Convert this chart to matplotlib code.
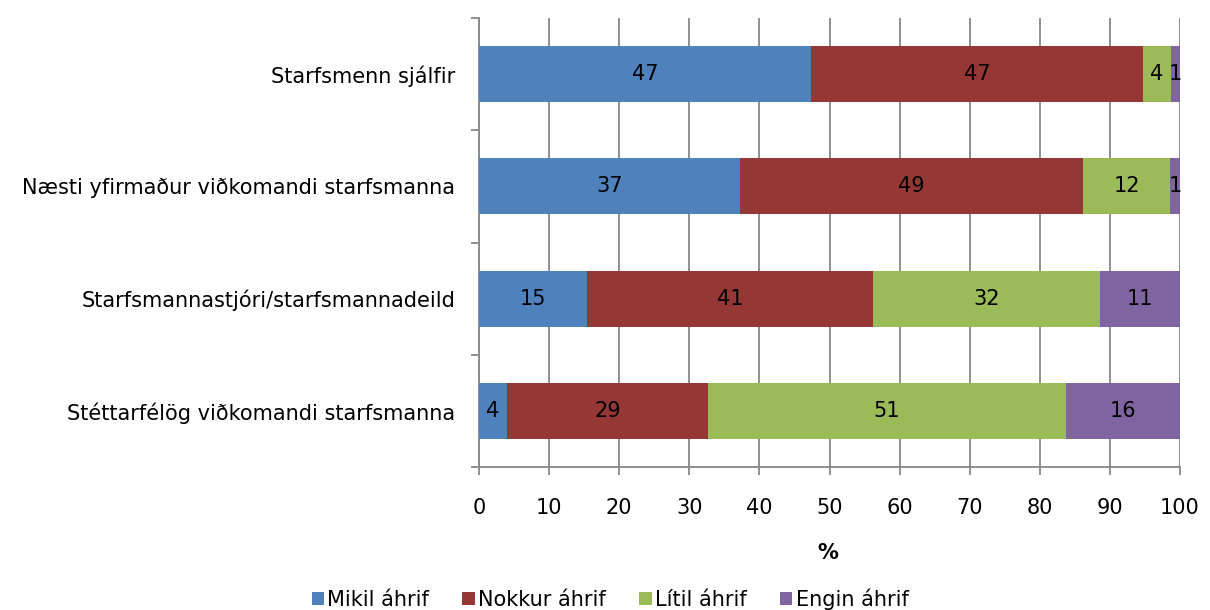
import numpy as np
import matplotlib.pyplot as plt
from matplotlib.ticker import MultipleLocator, FixedLocator

categories = [
    "Starfsmenn sjálfir",
    "Næsti yfirmaður viðkomandi starfsmanna",
    "Starfsmannastjóri/starfsmannadeild",
    "Stéttarfélög viðkomandi starfsmanna",
]
series = ["Mikil áhrif", "Nokkur áhrif", "Lítil áhrif", "Engin áhrif"]
mikil = [47.4, 37.2, 15.4, 4.0]
nokkur = [47.3, 49.0, 40.8, 28.7]
litil = [4.0, 12.4, 32.4, 51.0]
engin = [1.3, 1.4, 11.4, 16.3]
colors = ["#4F81BD", "#953735", "#9BBB59", "#8064A2"]

plt.rcParams['font.family'] = ['DejaVu Sans']
FS = 15

fig = plt.figure(figsize=(12.1, 6.1), dpi=100)
ax = fig.add_axes([479 / 1210, 1 - 467 / 610, 701 / 1210, 449 / 610])

y = np.arange(len(categories))
left = np.zeros(len(categories))
for name, vals, col in zip(series, [mikil, nokkur, litil, engin], colors):
    vals = np.array(vals)
    bars = ax.barh(y, vals, left=left, height=0.5, color=col, label=name, zorder=3)
    for b, v in zip(bars, vals):
        ax.text(b.get_x() + b.get_width() / 2, b.get_y() + b.get_height() / 2,
                f"{v:.0f}", ha='center', va='center', fontsize=FS, zorder=4)
    left += vals

ax.set_xlim(0, 100)
ax.set_ylim(len(categories) - 0.5, -0.5)
ax.xaxis.set_major_locator(MultipleLocator(10))
ax.set_yticks(y)
ax.set_yticklabels(categories)
ax.yaxis.set_minor_locator(FixedLocator(np.arange(-0.5, len(categories), 1)))
ax.tick_params(axis='y', which='major', length=0, pad=17, labelsize=FS)
ax.tick_params(axis='y', which='minor', length=6, width=1.3, color='#888888')
ax.tick_params(axis='x', length=6, width=1.3, color='#888888', pad=16, labelsize=FS)
ax.grid(axis='x', color='#888888', linewidth=1.3, zorder=0)
for s in ['top', 'right']:
    ax.spines[s].set_visible(False)
for s in ['left', 'bottom']:
    ax.spines[s].set_color('#888888')
    ax.spines[s].set_linewidth(1.3)

fig.text(828 / 1210, 1 - 553 / 610, "%", ha='center', va='center',
         fontsize=FS, fontweight='bold')
fig.legend(loc='center', bbox_to_anchor=(610 / 1210, 1 - 599 / 610), ncol=4,
           frameon=False, fontsize=FS, handlelength=0.6, handleheight=0.6,
           handletextpad=0.15, columnspacing=1.6)

fig.savefig("out.png", dpi=100)
